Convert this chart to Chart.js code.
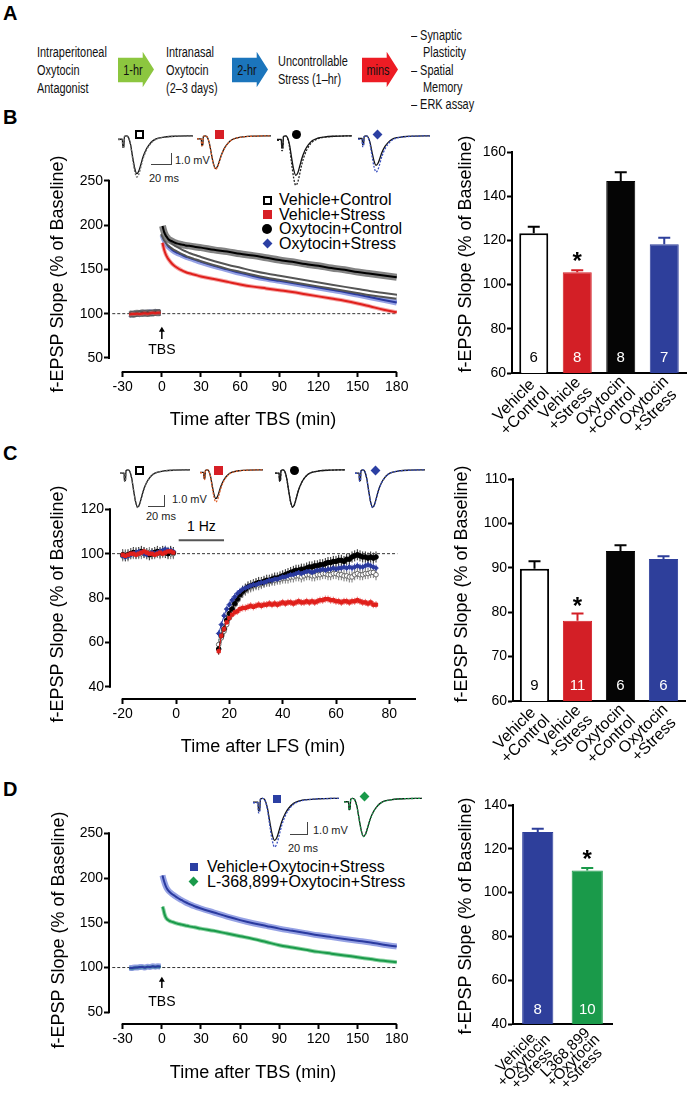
<!DOCTYPE html>
<html><head><meta charset="utf-8">
<script src="https://cdn.jsdelivr.net/npm/chart.js@4.4.1/dist/chart.umd.min.js"></script>
<style>
html,body{margin:0;padding:0;background:#fff;}
body{position:relative;width:697px;height:1097px;overflow:hidden;font-family:'Liberation Sans',Arial,Helvetica,sans-serif;color:#000;}
.plabel{position:absolute;font-weight:bold;font-size:20px;line-height:20px;}
.na{position:absolute;font-size:14px;line-height:18px;transform:scaleX(.78);transform-origin:0 0;white-space:nowrap;color:#111;}
.nac{position:absolute;font-size:14px;line-height:14px;transform:translate(-50%,-50%) scaleX(.78);white-space:nowrap;color:#111;}
.lg{position:absolute;font-size:16px;line-height:16px;white-space:nowrap;}
.sb{position:absolute;font-size:11px;line-height:11px;white-space:nowrap;color:#222;}
.mk{position:absolute;box-sizing:border-box;}
.bar{position:absolute;background:#444;}
</style></head><body>

<div class="plabel" style="left:3px;top:3px">A</div>
<div class="na" style="left:37px;top:43px">Intraperitoneal<br>Oxytocin<br>Antagonist</div>
<div class="na" style="left:166px;top:43px">Intranasal<br>Oxytocin<br>(2–3 days)</div>
<div class="na" style="left:278px;top:52px">Uncontrollable<br>Stress (1–hr)</div>
<div class="na" style="left:411px;top:26px">– Synaptic</div>
<div class="na" style="left:423px;top:43px">Plasticity</div>
<div class="na" style="left:411px;top:61px">– Spatial</div>
<div class="na" style="left:423px;top:78px">Memory</div>
<div class="na" style="left:411px;top:95px">– ERK assay</div>
<svg style="position:absolute;left:0;top:0" width="697" height="110">
<polygon points="118,57.7 142.7,57.7 142.7,51.7 154,69.5 142.7,87.3 142.7,82.3 118,82.3" fill="#8cc63f"/>
<polygon points="232,57.7 256.7,57.7 256.7,51.7 268,69.5 256.7,87.3 256.7,82.3 232,82.3" fill="#1b75bc"/>
<polygon points="362,57.7 386.7,57.7 386.7,51.7 398,69.5 386.7,87.3 386.7,82.3 362,82.3" fill="#ed1c24"/>
</svg>
<div class="nac" style="left:133px;top:70px">1-hr</div>
<div class="nac" style="left:247px;top:70px">2-hr</div>
<div class="nac" style="left:378px;top:70px">mins</div>

<div class="plabel" style="left:3px;top:107px">B</div>
<div class="plabel" style="left:3px;top:443px">C</div>
<div class="plabel" style="left:3px;top:779px">D</div>

<!-- inset markers B -->
<div class="mk" style="left:135px;top:130px;width:9px;height:9px;border:2px solid #000;background:#fff"></div>
<div class="mk" style="left:215px;top:130px;width:9px;height:9px;background:#d71f26"></div>
<div class="mk" style="left:292px;top:130px;width:9px;height:9px;border-radius:50%;background:#000"></div>
<div class="mk" style="left:374px;top:131px;width:7px;height:7px;transform:rotate(45deg);background:#2b3fa3"></div>
<div class="bar" style="left:171px;top:153px;width:1px;height:12px"></div>
<div class="bar" style="left:151px;top:164px;width:21px;height:1px"></div>
<div class="sb" style="left:175px;top:155px">1.0 mV</div>
<div class="sb" style="left:149px;top:173px">20 ms</div>
<!-- legend B -->
<div class="mk" style="left:263px;top:196px;width:9px;height:9px;border:2px solid #000;background:#fff"></div>
<div class="lg" style="left:279px;top:192px">Vehicle+Control</div>
<div class="mk" style="left:263px;top:210px;width:9px;height:9px;background:#d71f26"></div>
<div class="lg" style="left:279px;top:207px">Vehicle+Stress</div>
<div class="mk" style="left:262px;top:224px;width:10px;height:10px;border-radius:50%;background:#000"></div>
<div class="lg" style="left:279px;top:221px">Oxytocin+Control</div>
<div class="mk" style="left:264px;top:240px;width:7px;height:7px;transform:rotate(45deg);background:#2b3fa3"></div>
<div class="lg" style="left:279px;top:236px">Oxytocin+Stress</div>

<!-- inset markers C -->
<div class="mk" style="left:135px;top:466px;width:9px;height:9px;border:2px solid #000;background:#fff"></div>
<div class="mk" style="left:214px;top:466px;width:9px;height:9px;background:#d71f26"></div>
<div class="mk" style="left:290px;top:466px;width:9px;height:9px;border-radius:50%;background:#000"></div>
<div class="mk" style="left:372px;top:467px;width:7px;height:7px;transform:rotate(45deg);background:#2b3fa3"></div>
<div class="bar" style="left:164px;top:495px;width:1px;height:12px"></div>
<div class="bar" style="left:148px;top:506px;width:17px;height:1px"></div>
<div class="sb" style="left:172px;top:494px">1.0 mV</div>
<div class="sb" style="left:146px;top:511px">20 ms</div>

<div class="lg" style="left:187px;top:519px;font-size:14px;line-height:14px">1 Hz</div>

<!-- inset markers D -->
<div class="mk" style="left:273px;top:795px;width:8px;height:8px;background:#2b3fa3"></div>
<div class="mk" style="left:361px;top:793px;width:7px;height:7px;transform:rotate(45deg);background:#1a9a4a"></div>
<div class="bar" style="left:307px;top:822px;width:1px;height:13px"></div>
<div class="bar" style="left:290px;top:834px;width:18px;height:1px"></div>
<div class="sb" style="left:313px;top:825px">1.0 mV</div>
<div class="sb" style="left:288px;top:843px">20 ms</div>
<!-- legend D -->
<div class="mk" style="left:190px;top:863px;width:8px;height:8px;background:#2b3fa3"></div>
<div class="lg" style="left:207px;top:859px">Vehicle+Oxytocin+Stress</div>
<div class="mk" style="left:190px;top:878px;width:7px;height:7px;transform:rotate(45deg);background:#1a9a4a"></div>
<div class="lg" style="left:207px;top:874px">L-368,899+Oxytocin+Stress</div>

<script>
// ================= DATA =================
// ---- Panel B : TBS-induced LTP ----
const bBaseTime = [-25,-23,-21,-19,-17,-15,-13,-11,-9,-7,-5,-3,-1];
const bPostTime = [0.5,1,2,3,4,5,6,8,10,12,15,18,21,25,30,40,50,60,70,80,90,100,110,120,130,140,150,160,170,180];
const bVehCtrlBase = [99,99.5,99,100,100.5,100,100.5,100,101,100.5,101,101.5,101];
const bVehCtrlPost = [191,190,187,184,182,180,178.5,176,174,172.5,170,168,166,164,161.5,157,153,149.5,146,143,140.5,138,135.5,133,130.5,128,125.5,123,121,119];
const bVehStrBase = [99,99.5,99.5,100,99.5,100,100.5,100,100.5,101,100.5,101,101];
const bVehStrPost = [180,176.5,171,167,164,161.5,159.5,156,153.5,151.5,149,147,145.5,144,142,139,136,133,130.5,128.5,126.5,124.5,122,119.5,117,114.5,111.5,108,104.5,101.5];
const bOxyCtrlBase = [100,99.5,100,100.5,100,101,100.5,101,100.5,101,101.5,101,101.5];
const bOxyCtrlPost = [199,196,191,188,186,184,183,181.5,180,179,178,177,176.5,175.5,174.5,172,170,167.5,165.5,163,160.5,158.5,156,154,151.5,149.5,147,145,143,141];
const bOxyStrBase = [99.5,99,100,99.5,100,100.5,101,100.5,101.5,101,102,101.5,102];
const bOxyStrPost = [189,187,183.5,180.5,178,176,174.5,172,170,168.5,166.5,164.5,163,161,158.5,154,150,146,142.5,139.5,137,134.5,132,129.5,127,124.5,121.5,118.5,115.5,112.5];
const bTicksX = [-30,0,30,60,90,120,150,180];
const bTicksY = [50,100,150,200,250];
const bBarCats = [['Vehicle','+Control'],['Vehicle','+Stress'],['Oxytocin','+Control'],['Oxytocin','+Stress']];
const bBarMean = [123.2,105.6,146.9,118.3];
const bBarSem = [3.0,0.9,3.9,2.9];
const bBarN = [6,8,8,7];
const bBarSig = [false,true,false,false];

// ---- Panel C : LFS-induced LTD ----
const cBaseTime = [-20,-19,-18,-17,-16,-15,-14,-13,-12,-11,-10,-9,-8,-7,-6,-5,-4,-3,-2,-1];
const cPostTime = [16,17,18,19,20,21,22,23,24,25,26,27,28,29,30,31,32,33,34,35,36,37,38,39,40,41,42,43,44,45,46,47,48,49,50,51,52,53,54,55,56,57,58,59,60,61,62,63,64,65,66,67,68,69,70,71,72,73,74,75];
const cVehCtrlBase = [99,99.5,99,100,100,100.5,100,100,100.5,100,100.5,100,100,100.5,100,100.5,101,100.5,100,100];
const cVehCtrlPost = [59,62,65,68,71,74,77,79,81,82.5, 83.5,84.5,85,85.5,86,86,86.5,87,87.5,87.5, 88,88,88.5,88.5,89,89,89,89.5,89.5,90, 90,89.5,90,90.5,90.5,90,90,90.5,90.5,91, 91,90.5,90.5,91,91,90.5,90.5,90,90,89.5, 89.5,90.5,91,90.5,90.5,91,91,91.5,91.5,90.5];
const cVehStrBase = [99.5,99,99.5,100,100,99.5,100,100.5,101,100.5,100,100,99.5,100,100.5,100,100.5,101,101,100.5];
const cVehStrPost = [56,63,66,69,71,72.5,73.5,74,75,75.5, 75.5,76,76.5,76,76.5,77,76.5,77,77,77.5, 77,77.5,77,77.5,78,77.5,78,78,77.5,78, 78.5,78,78,78.5,78,78.5,78,78.5,79,79, 79.5,79.5,79,79,78.5,78.5,78,78.5,78.5,78, 78.5,78.5,79,78.5,78,78,77.5,78,77,77];
const cOxyCtrlBase = [99.5,99,99.5,100,100.5,100,100.5,101,100.5,100,99.5,100,100.5,101,100.5,101,100.5,100,101,100.5];
const cOxyCtrlPost = [57,63,66,70,73,75,77.5,79.5,81.5,83, 84,85,85.5,86,86.5,87,87,87.5,88,88, 88.5,89,89,89.5,90,90.5,91,91.5,92,92.5, 92.5,93,93,93.5,94,94,94.5,94.5,95,95, 95.5,96,96,96.5,96.5,97,97,96.5,97.5,97.5, 98.5,99,99.5,99,98.5,98.5,98,98.5,98,98.5];
const cOxyStrBase = [99,98.5,99,99.5,100,100.5,101,100.5,100,99.5,100,100.5,100,100.5,101,101.5,102,101.5,101.5,101];
const cOxyStrPost = [64,68,72,75,77,79,80.5,82,83,84, 84.5,85,85.5,86,86,86.5,87,87,87.5,88, 88,88.5,88.5,89,89.5,89.5,90,90.5,90.5,91, 91.5,91,91.5,92,92,91.5,92,92.5,92.5,93, 92.5,93,93,93.5,93,93.5,93.5,94,93.5,94, 93.5,94,94.5,94,94,94.5,95,94.5,94,93.5];
const cSem = {vehCtrl:2.5, vehStr:1.6, oxyCtrl:2.5, oxyStr:1.6};
const cTicksX = [-20,0,20,40,60,80];
const cTicksY = [40,60,80,100,120];
const cBarMean = [89.8,78.1,93.8,92.0];
const cBarSem = [1.7,1.6,1.3,0.6];
const cBarN = [9,11,6,6];
const cBarSig = [false,true,false,false];

// ---- Panel D : oxytocin receptor antagonist ----
const dBaseTime = [-25,-23,-21,-19,-17,-15,-13,-11,-9,-7,-5,-3,-1];
const dPostTime = [0.5,1,2,3,4,5,6,8,10,12,15,18,21,25,30,40,50,60,70,80,90,100,110,120,130,140,150,160,170,180];
const dVehBase = [99.5,99.5,100,100,100.5,100.5,100,101,100.5,101.5,101,101.5,101];
const dVehPost = [203,200,195,191,188,186,184.5,182,180,178,175.5,173,171,168.5,166,161.5,157,153,149.5,146.5,143.5,141,138.5,136,134,132,130,128,125.5,123.5];
const dAntBase = [99.5,99,99.5,100,100,100.5,100,100.5,100.5,101,100.5,101,100.5];
const dAntPost = [168,166,160,156,154,153,152,151,150,149,148,147,146,145,143.5,141,138,135,132,128.5,125,122.5,120,117.5,115.5,113.5,111.5,109.5,107.5,106];
const dBarCats = [['Vehicle','+Oxytocin','+Stress'],['L368,899','+Oxytocin','+Stress']];
const dBarMean = [127.7,110.1];
const dBarSem = [1.4,1.1];
const dBarN = [8,10];
const dBarSig = [false,true];

// ---- fEPSP inset traces (normalized shape, ms) and peak depths (mV) ----
const waveMs    = [0,3.5,4.2,4.6,5.6,6.2,8,10,12,14,16,18,20,22,24,27,30,34,39,45,55,72];
const waveShape = [-0.09,-0.09,-0.09,-0.3,-0.28,-0.02,0,-0.04,-0.22,-0.55,-0.85,-1,-0.93,-0.75,-0.56,-0.36,-0.23,-0.12,-0.06,-0.03,-0.01,0];
const bWaveSolid = [3.23,2.8,3.38,2.52];
const bWaveDot   = [3.52,2.85,4.23,3.09];
const cWaveSolid = [3.18,2.46,3.18,3.2];
const cWaveDot   = [3.22,2.75,3.2,3.22];
const dWaveSolid = [3.31,2.99];
const dWaveDot   = [3.83,3.02];

const yTitleText = 'f-EPSP Slope (% of Baseline)';

// ================= DRAWING =================
const FONT = "'Liberation Sans', Arial, Helvetica, sans-serif";
Chart.defaults.font.family = FONT;
Chart.defaults.color = '#000';
Chart.defaults.animation = false;

function mkCanvas(left, top, w, h){
  const c = document.createElement('canvas');
  c.width = w; c.height = h;
  c.style.cssText = 'position:absolute;left:'+left+'px;top:'+top+'px;width:'+w+'px;height:'+h+'px';
  c.dataset.left = left; c.dataset.top = top;
  document.body.appendChild(c);
  return c;
}
function pts(tb, vb, tp, vp){
  const a = tb.map((t,i)=>({x:t,y:vb[i]}));
  a.push({x:0,y:null});
  return a.concat(tp.map((t,i)=>({x:t,y:vp[i]})));
}
function band(data, lineColor, lineW, bandColor, bandW){
  const base = {data, pointRadius:0, spanGaps:false, cubicInterpolationMode:'monotone'};
  return [Object.assign({borderColor:lineColor, borderWidth:lineW}, base),
          Object.assign({borderColor:bandColor, borderWidth:bandW}, base)];
}
function dashed(x1, x2){
  return {data:[{x:x1,y:100},{x:x2,y:100}], borderColor:'#333', borderWidth:1, borderDash:[3,2], pointRadius:0};
}

// vertical axis title drawn without width squeezing (page coordinates)
const yTitlePlugin = {
  id:'ytitle',
  afterDraw(chart, args, o){
    if (!o || !o.text) return;
    const ctx = chart.ctx, cv = chart.canvas;
    const x = o.x - (+cv.dataset.left), y = o.y - (+cv.dataset.top);
    ctx.save();
    ctx.translate(x, y); ctx.rotate(-Math.PI/2);
    ctx.font = '18px '+FONT; ctx.fillStyle = '#000'; ctx.textAlign = 'center'; ctx.textBaseline = 'middle';
    ctx.fillText(o.text, 0, 0);
    ctx.restore();
  }
};

const prismPlugin = {
  id:'prism',
  beforeDatasetsDraw(chart){
    const ctx = chart.ctx, y = chart.scales.y;
    chart.data.datasets.forEach((ds,di)=>{
      if (!ds.sem) return;
      const meta = chart.getDatasetMeta(di);
      ctx.save(); ctx.strokeStyle = ds.errColor; ctx.lineWidth = 1;
      ctx.beginPath();
      meta.data.forEach((p,i)=>{
        const v = ds.data[i].y; if (v === null) return;
        ctx.moveTo(p.x, y.getPixelForValue(v - ds.sem));
        ctx.lineTo(p.x, y.getPixelForValue(v + ds.sem));
      });
      ctx.stroke(); ctx.restore();
    });
  },
  afterDraw(chart, args, o){
    const {ctx, chartArea:ca, scales:{x,y}} = chart;
    ctx.save();
    ctx.strokeStyle = '#000'; ctx.lineWidth = 2;
    ctx.beginPath();
    ctx.moveTo(ca.left, y.getPixelForValue(o.yFrom)+1);
    ctx.lineTo(ca.left, y.getPixelForValue(o.yTo)-1);
    ctx.moveTo(x.getPixelForValue(o.xFrom)-1, ca.bottom);
    ctx.lineTo(x.getPixelForValue(o.xTo), ca.bottom);
    ctx.stroke();
    if (o.arrow){
      const a = o.arrow, px = x.getPixelForValue(a.x);
      const tip = y.getPixelForValue(a.tip), base = y.getPixelForValue(a.base);
      ctx.lineWidth = 1.5;
      ctx.beginPath(); ctx.moveTo(px, base); ctx.lineTo(px, tip+3); ctx.stroke();
      ctx.fillStyle = '#000';
      ctx.beginPath(); ctx.moveTo(px, tip); ctx.lineTo(px-3, tip+5); ctx.lineTo(px+3, tip+5); ctx.closePath(); ctx.fill();
      ctx.font = '14px '+FONT; ctx.textAlign = 'center'; ctx.textBaseline = 'middle';
      ctx.fillText(a.text, px, y.getPixelForValue(a.label));
    }
    if (o.hz){
      const h = o.hz;
      ctx.strokeStyle = '#555'; ctx.lineWidth = 2;
      ctx.beginPath();
      ctx.moveTo(x.getPixelForValue(h.x1), y.getPixelForValue(h.y));
      ctx.lineTo(x.getPixelForValue(h.x2), y.getPixelForValue(h.y));
      ctx.stroke();
    }
    ctx.restore();
  }
};

function prismLine(canvas, c){
  return new Chart(canvas, {
    type:'line',
    data:{datasets:c.datasets},
    options:{
      responsive:false, animation:false, devicePixelRatio:1, events:[],
      layout:{padding:{top:c.padTop, right:c.padRight, left:0, bottom:0}},
      plugins:{legend:{display:false}, tooltip:{enabled:false}, prism:c.prism, ytitle:c.ytitle},
      scales:{
        x:{type:'linear', position:'bottom', min:c.xMin, max:c.xMax,
           afterBuildTicks:s=>{ s.ticks = c.xTicks.map(v=>({value:v})); },
           afterFit:s=>{ s.height = c.xH; },
           grid:{display:true, drawOnChartArea:false, tickLength:5, tickWidth:2, tickColor:'#000'},
           border:{display:false},
           ticks:{font:{size:14}, color:'#000', padding:2, maxRotation:0, autoSkip:false},
           title:{display:true, text:c.xTitle, font:{size:18}, color:'#000', padding:{top:0,bottom:4}}},
        y:{type:'linear', position:'left', min:c.yMin, max:c.yMax,
           afterBuildTicks:s=>{ s.ticks = c.yTicks.map(v=>({value:v})); },
           afterFit:s=>{ s.width = c.yW; },
           grid:{display:true, drawOnChartArea:false, tickLength:5, tickWidth:2, tickColor:'#000'},
           border:{display:false},
           ticks:{font:{size:14}, color:'#000', padding:1}}
      }
    },
    plugins:[prismPlugin, yTitlePlugin]
  });
}

const barPlugin = {
  id:'barx',
  afterDatasetsDraw(chart, args, o){
    const ctx = chart.ctx, meta = chart.getDatasetMeta(0), y = chart.scales.y, ca = chart.chartArea;
    ctx.save();
    meta.data.forEach((el,i)=>{
      const top = y.getPixelForValue(o.means[i] + o.sems[i]);
      ctx.strokeStyle = o.errColors[i]; ctx.lineWidth = 2;
      ctx.beginPath();
      ctx.moveTo(el.x, el.y); ctx.lineTo(el.x, top);
      ctx.moveTo(el.x-6, top); ctx.lineTo(el.x+6, top);
      ctx.stroke();
      ctx.fillStyle = o.nColors[i]; ctx.font = '15px '+FONT; ctx.textAlign = 'center'; ctx.textBaseline = 'middle';
      ctx.fillText(String(o.ns[i]), el.x, ca.bottom - o.nOff);
      if (o.sig[i]){
        ctx.fillStyle = '#000'; ctx.font = 'bold 24px '+FONT; ctx.textBaseline = 'alphabetic';
        ctx.fillText('*', el.x, top + o.starOff + 13.8);
      }
    });
    ctx.restore();
  },
  afterDraw(chart, args, o){
    // rotated multi-line category labels, lines centred within their block
    const ctx = chart.ctx, xs = chart.scales.x, ca = chart.chartArea;
    const lh = o.lh;
    ctx.save();
    ctx.font = o.labSize+'px '+FONT; ctx.fillStyle = '#000'; ctx.textAlign = 'center'; ctx.textBaseline = 'middle';
    chart.data.labels.forEach((lab,i)=>{
      const lines = Array.isArray(lab) ? lab : [lab];
      const wmax = Math.max(...lines.map(s=>ctx.measureText(s).width));
      ctx.save();
      ctx.translate(xs.getPixelForTick(i) + o.labDx, ca.bottom + o.labDy);
      ctx.rotate(-Math.PI/4);
      lines.forEach((s,k)=>{ ctx.fillText(s, -wmax/2, k*lh); });
      ctx.restore();
    });
    ctx.restore();
  }
};

function prismBar(canvas, c){
  return new Chart(canvas, {
    type:'bar',
    data:{labels:c.labels, datasets:[{data:c.means, backgroundColor:c.fill, borderColor:c.stroke, borderWidth:c.bw,
          barPercentage:c.barPct, categoryPercentage:1}]},
    options:{
      responsive:false, animation:false, devicePixelRatio:1, events:[],
      layout:{padding:{top:c.padTop, right:c.padRight, left:0, bottom:0}},
      plugins:{legend:{display:false}, tooltip:{enabled:false}, ytitle:c.ytitle,
        barx:{means:c.means, sems:c.sems, ns:c.ns, sig:c.sig, errColors:c.stroke, nColors:c.nColors, nOff:c.nOff, starOff:c.starOff,
              lh:c.lh, labSize:c.labSize, labDx:c.labDx, labDy:c.labDy}},
      scales:{
        x:{afterFit:s=>{ s.height = c.xH; },
           grid:{display:false}, border:{display:true, width:2, color:'#000'},
           ticks:{display:false}},
        y:{min:c.yMin, max:c.yMax, ticks:{stepSize:c.step, font:{size:14}, color:'#000', padding:1},
           afterFit:s=>{ s.width = c.yW; },
           grid:{display:true, drawOnChartArea:false, tickLength:5, tickWidth:2, tickColor:'#000'},
           border:{display:true, width:2, color:'#000'}}
      }
    },
    plugins:[barPlugin, yTitlePlugin]
  });
}

function wave(left, baseline, w, pxPerMV, ampSolid, ampDot, dotColor){
  const h = 62, yMax = 0.5;
  const top = Math.round(baseline - yMax*pxPerMV);
  const cv = mkCanvas(left, top, w, h);
  const mk = amp => waveMs.map((t,i)=>({x:t, y:waveShape[i]*amp}));
  new Chart(cv, {
    type:'line',
    data:{datasets:[
      {data:mk(ampDot), borderColor:dotColor, borderWidth:1.3, borderDash:[2,1.5], pointRadius:0, cubicInterpolationMode:'monotone', clip:false},
      {data:mk(ampSolid), borderColor:'#111', borderWidth:1.3, pointRadius:0, cubicInterpolationMode:'monotone', clip:false}
    ]},
    options:{responsive:false, animation:false, devicePixelRatio:1, events:[],
      layout:{padding:0},
      plugins:{legend:{display:false}, tooltip:{enabled:false}},
      scales:{x:{type:'linear', display:false, min:0, max:72},
              y:{display:false, min:yMax - h/pxPerMV, max:yMax}}}
  });
}

// ---- Panel B line ----
prismLine(mkCanvas(40,140,375,295), {
  padTop:32, padRight:18, xH:63, yW:69,
  xMin:-40.5, xMax:180.2, yMin:34.2, yMax:259.8, xTicks:bTicksX, yTicks:bTicksY,
  xTitle:'Time after TBS (min)', ytitle:{text:yTitleText, x:58, y:274},
  prism:{yFrom:50, yTo:250, xFrom:-30, xTo:180, arrow:{x:0, tip:85.3, base:71.5, label:58.3, text:'TBS'}},
  datasets:[
    ...band(pts(bBaseTime,bVehStrBase,bPostTime,bVehStrPost), '#e0201c', 2, 'rgba(236,90,90,0.55)', 4),
    ...band(pts(bBaseTime,bOxyCtrlBase,bPostTime,bOxyCtrlPost), '#000', 2, 'rgba(90,90,90,0.75)', 7),
    ...band(pts(bBaseTime,bVehCtrlBase,bPostTime,bVehCtrlPost), '#fff', 2, '#555', 6),
    ...band(pts(bBaseTime,bOxyStrBase,bPostTime,bOxyStrPost), '#2a3a9f', 2, 'rgba(80,100,210,0.6)', 6),
    dashed(-38, 180.2)
  ]
});

// ---- Panel C line ----
function cSeries(tb, vb, tp, vp, color, fill, style, sem, errColor){
  return {data:pts(tb,vb,tp,vp), borderColor:color, borderWidth:1, pointRadius:2.3, pointStyle:style,
          pointBackgroundColor:fill, pointBorderColor:color, pointBorderWidth:1, spanGaps:false, sem, errColor};
}
prismLine(mkCanvas(40,470,395,292), {
  padTop:30, padRight:19, xH:63, yW:70,
  xMin:-24.76, xMax:90, yMin:34.45, yMax:124.2, xTicks:cTicksX, yTicks:cTicksY,
  xTitle:'Time after LFS (min)', ytitle:{text:yTitleText, x:58.5, y:604},
  prism:{yFrom:40, yTo:120, xFrom:-20, xTo:90, hz:{x1:1, x2:18, y:106}},
  datasets:[
    cSeries(cBaseTime,cVehStrBase,cPostTime,cVehStrPost,'#e0201c','#e0201c','rect',cSem.vehStr,'rgba(230,80,80,0.8)'),
    cSeries(cBaseTime,cOxyStrBase,cPostTime,cOxyStrPost,'#2a3a9f','#2a3a9f','rectRot',cSem.oxyStr,'rgba(70,90,200,0.8)'),
    cSeries(cBaseTime,cOxyCtrlBase,cPostTime,cOxyCtrlPost,'#000','#000','circle',cSem.oxyCtrl,'#222'),
    cSeries(cBaseTime,cVehCtrlBase,cPostTime,cVehCtrlPost,'#666','#fff','circle',cSem.vehCtrl,'#777'),
    dashed(-24, 83)
  ]
});

// ---- Panel D line ----
prismLine(mkCanvas(40,795,375,293), {
  padTop:30, padRight:18, xH:64, yW:69,
  xMin:-40.5, xMax:180.2, yMin:36.9, yMax:259.3, xTicks:bTicksX, yTicks:bTicksY,
  xTitle:'Time after TBS (min)', ytitle:{text:yTitleText, x:59, y:930},
  prism:{yFrom:50, yTo:250, xFrom:-30, xTo:180, arrow:{x:0, tip:89.8, base:77.2, label:61.8, text:'TBS'}},
  datasets:[
    ...band(pts(dBaseTime,dVehBase,dPostTime,dVehPost), '#2a3a9f', 2, 'rgba(80,100,210,0.6)', 6),
    ...band(pts(dBaseTime,dAntBase,dPostTime,dAntPost), '#1a9a4a', 2, 'rgba(60,180,100,0.6)', 4),
    dashed(-38, 180.2)
  ]
});

// ---- bar charts ----
prismBar(mkCanvas(440,125,257,320), {
  padTop:27, padRight:11, xH:72, yW:72, yMin:60, yMax:160, step:20, barPct:0.667,
  ytitle:{text:yTitleText, x:466, y:254},
  labels:bBarCats, means:bBarMean, sems:bBarSem, ns:bBarN, sig:bBarSig,
  fill:['#ffffff','#d31f26','#050505','#2e3f9b'], stroke:['#000','#d31f26','#050505','#2e3f9b'], bw:[2,1,1,1],
  nColors:['#000','#fff','#fff','#fff'], nOff:15, starOff:-15,
  lh:15.3, labSize:16, labDx:2, labDy:6
});
prismBar(mkCanvas(440,462,257,323), {
  padTop:17, padRight:12, xH:84, yW:73, yMin:60, yMax:110, step:10, barPct:0.68,
  ytitle:{text:yTitleText, x:462, y:584},
  labels:bBarCats, means:cBarMean, sems:cBarSem, ns:cBarN, sig:cBarSig,
  fill:['#ffffff','#d31f26','#050505','#2e3f9b'], stroke:['#000','#d31f26','#050505','#2e3f9b'], bw:[2,1,1,1],
  nColors:['#000','#fff','#fff','#fff'], nOff:15, starOff:-13.3,
  lh:15.3, labSize:16, labDx:2, labDy:6
});
prismBar(mkCanvas(440,788,200,309), {
  padTop:17, padRight:28, xH:73, yW:73, yMin:40, yMax:140, step:20, barPct:0.63,
  ytitle:{text:yTitleText, x:466, y:916},
  labels:dBarCats, means:dBarMean, sems:dBarSem, ns:dBarN, sig:dBarSig,
  fill:['#2e3f9b','#1a9a4a'], stroke:['#2e3f9b','#1a9a4a'], bw:[1,1],
  nColors:['#fff','#fff'], nOff:14.5, starOff:-15,
  lh:11.5, labSize:15, labDx:2, labDy:5
});

// ---- inset traces ----
wave(118,135.5,75,11.7,bWaveSolid[0],bWaveDot[0],'#666');
wave(197,135.5,74,11.7,bWaveSolid[1],bWaveDot[1],'#e0602a');
wave(277,135.5,75,11.7,bWaveSolid[2],bWaveDot[2],'#222');
wave(358,135.5,72,11.7,bWaveSolid[3],bWaveDot[3],'#3a50c0');
wave(120,469.5,70,11.7,cWaveSolid[0],cWaveDot[0],'#666');
wave(200,469.5,63,11.7,cWaveSolid[1],cWaveDot[1],'#e0602a');
wave(275,469.5,70,11.7,cWaveSolid[2],cWaveDot[2],'#222');
wave(355,469.5,70,11.7,cWaveSolid[3],cWaveDot[3],'#3a50c0');
wave(253,798,86,12.7,dWaveSolid[0],dWaveDot[0],'#3a50c0');
wave(344,798,78,12.7,dWaveSolid[1],dWaveDot[1],'#1a9a4a');
</script>
</body></html>
